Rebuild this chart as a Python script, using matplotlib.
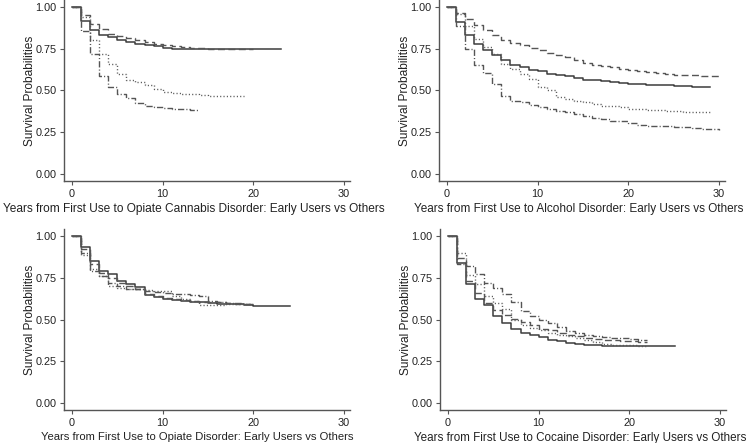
import matplotlib
matplotlib.use('Agg')
import matplotlib.pyplot as plt

plt.rcParams['font.family'] = ['Liberation Sans', 'DejaVu Sans']
plt.rcParams['lines.scale_dashes'] = False

# ---- data: survival probability on [t, t+1), t = 0, 1, 2, ... (last value = end of follow-up)
cannabis_solid = [1.00, 0.915, 0.86, 0.835, 0.82, 0.805, 0.79, 0.78, 0.775, 0.765, 0.755, 0.75,
                  0.75, 0.75, 0.75, 0.75, 0.75, 0.748, 0.748, 0.748, 0.748, 0.748, 0.748, 0.748]
cannabis_dash = [1.00, 0.95, 0.90, 0.87, 0.84, 0.825, 0.815, 0.80, 0.79, 0.78, 0.775, 0.765,
                 0.76, 0.755, 0.755, 0.75, 0.75, 0.75, 0.75, 0.75, 0.75]
cannabis_dot = [1.00, 0.94, 0.80, 0.72, 0.66, 0.60, 0.565, 0.55, 0.53, 0.51, 0.49, 0.485,
                0.48, 0.478, 0.475, 0.47, 0.468, 0.465, 0.465, 0.465]
cannabis_dashdot = [1.00, 0.855, 0.72, 0.585, 0.52, 0.478, 0.455, 0.425, 0.41, 0.40, 0.395,
                    0.39, 0.388, 0.386, 0.386]

alcohol_solid = [1.00, 0.91, 0.83, 0.78, 0.745, 0.71, 0.685, 0.655, 0.64, 0.625, 0.615, 0.60,
                 0.59, 0.585, 0.575, 0.565, 0.56, 0.555, 0.55, 0.545, 0.54, 0.538, 0.535,
                 0.533, 0.53, 0.528, 0.525, 0.52, 0.52, 0.52]
alcohol_dash = [1.00, 0.965, 0.93, 0.89, 0.86, 0.83, 0.80, 0.785, 0.77, 0.755, 0.74, 0.725,
                0.71, 0.70, 0.685, 0.665, 0.655, 0.645, 0.64, 0.63, 0.62, 0.615, 0.61, 0.605,
                0.60, 0.595, 0.59, 0.59, 0.587, 0.586, 0.586]
alcohol_dot = [1.00, 0.96, 0.885, 0.81, 0.76, 0.72, 0.66, 0.63, 0.60, 0.57, 0.52, 0.50, 0.46,
               0.45, 0.44, 0.43, 0.42, 0.41, 0.405, 0.40, 0.39, 0.388, 0.385, 0.382, 0.38,
               0.375, 0.372, 0.37, 0.37, 0.37]
alcohol_dashdot = [1.00, 0.885, 0.75, 0.65, 0.605, 0.54, 0.47, 0.44, 0.43, 0.415, 0.40, 0.39,
                   0.38, 0.37, 0.36, 0.345, 0.335, 0.33, 0.32, 0.315, 0.305, 0.295, 0.29,
                   0.288, 0.285, 0.282, 0.28, 0.275, 0.27, 0.268, 0.266]

opiate_solid = [1.00, 0.935, 0.85, 0.79, 0.77, 0.73, 0.715, 0.695, 0.645, 0.635, 0.625, 0.615,
                0.61, 0.605, 0.603, 0.60, 0.595, 0.593, 0.59, 0.588, 0.58, 0.58, 0.58, 0.58, 0.578]
opiate_dash = [1.00, 0.92, 0.83, 0.78, 0.75, 0.72, 0.70, 0.685, 0.655, 0.64, 0.63, 0.625,
               0.615, 0.61, 0.607, 0.605, 0.603, 0.60, 0.598, 0.595, 0.59]
opiate_dot = [1.00, 0.885, 0.805, 0.76, 0.70, 0.69, 0.685, 0.68, 0.675, 0.67, 0.668, 0.64,
              0.62, 0.61, 0.585, 0.585, 0.585, 0.59, 0.59, 0.59, 0.59]
opiate_dashdot = [1.00, 0.90, 0.79, 0.76, 0.72, 0.70, 0.685, 0.68, 0.67, 0.665, 0.66, 0.655,
                  0.65, 0.645, 0.64, 0.61, 0.605, 0.60, 0.595, 0.59, 0.59]

cocaine_solid = [1.00, 0.84, 0.71, 0.625, 0.585, 0.52, 0.48, 0.445, 0.42, 0.41, 0.395, 0.38,
                 0.37, 0.36, 0.355, 0.35, 0.345, 0.343, 0.34, 0.34, 0.34, 0.34, 0.34, 0.34,
                 0.34, 0.34]
cocaine_dash = [1.00, 0.87, 0.73, 0.66, 0.60, 0.555, 0.525, 0.505, 0.485, 0.465, 0.445, 0.435,
                0.42, 0.41, 0.40, 0.39, 0.385, 0.38, 0.375, 0.372, 0.37, 0.365, 0.365]
cocaine_dot = [1.00, 0.90, 0.765, 0.715, 0.64, 0.60, 0.56, 0.50, 0.47, 0.45, 0.44, 0.42, 0.41,
               0.40, 0.39, 0.375, 0.365, 0.355, 0.35, 0.348, 0.345, 0.34, 0.34]
cocaine_dashdot = [1.00, 0.83, 0.82, 0.77, 0.72, 0.69, 0.65, 0.605, 0.55, 0.52, 0.50, 0.48,
                   0.455, 0.43, 0.42, 0.41, 0.40, 0.395, 0.39, 0.39, 0.385, 0.38, 0.38]

panel_xlabels = [
    "Years from First Use to Opiate Cannabis Disorder: Early Users vs Others",
    "Years from First Use to Alcohol Disorder: Early Users vs Others",
    "Years from First Use to Opiate Disorder: Early Users vs Others",
    "Years from First Use to Cocaine Disorder: Early Users vs Others",
]
ylabel = "Survival Probabilities"
xticks = [0, 10, 20, 30]
yticks = [0.0, 0.25, 0.5, 0.75, 1.0]
ytick_labels = ["0.00", "0.25", "0.50", "0.75", "1.00"]

panels = [
    (cannabis_solid, cannabis_dash, cannabis_dot, cannabis_dashdot),
    (alcohol_solid, alcohol_dash, alcohol_dot, alcohol_dashdot),
    (opiate_solid, opiate_dash, opiate_dot, opiate_dashdot),
    (cocaine_solid, cocaine_dash, cocaine_dot, cocaine_dashdot),
]

W, H = 750, 443
fig = plt.figure(figsize=(W / 100, H / 100), dpi=100)

# axes boxes in pixels: (left, top, width, height)
boxes = [(64, 0, 286, 181), (439, 0, 286, 181), (64, 229, 286, 181), (440, 229, 286, 181)]
label_x = [0.455, 0.49, 0.465, 0.49]
label_size = [8.6, 8.5, 8.15, 8.35]

styles = [
    dict(linestyle='-', color='#3c3c3c', lw=1.1),
    dict(linestyle=(0, (5, 2.5)), color='#555555', lw=1.0),
    dict(linestyle=(0, (0.8, 1.6)), color='#555555', lw=1.0),
    dict(linestyle=(0, (4.5, 1.5, 0.8, 1.5)), color='#555555', lw=1.0),
]

grey = '#555555'
for i, (series, box, xl, lx, ls) in enumerate(zip(panels, boxes, panel_xlabels, label_x, label_size)):
    l, t, w, h = box
    ax = fig.add_axes([l / W, 1 - (t + h) / H, w / W, h / H])
    for vals, st in zip(series, styles):
        ax.step(list(range(len(vals))), vals, where='post', **st)
    ax.set_xlim(-0.88, 30.66)
    ax.set_ylim(-0.042, 1.042)
    for s in ['top', 'right']:
        ax.spines[s].set_visible(False)
    for s in ['left', 'bottom']:
        ax.spines[s].set_color(grey)
        ax.spines[s].set_linewidth(1.0)
    ax.set_xticks(xticks)
    ax.set_yticks(yticks)
    ax.set_yticklabels(ytick_labels)
    ax.tick_params(direction='out', length=3, width=0.8, color=grey,
                   labelsize=7.8, labelcolor='#222222', pad=2.5)
    ax.set_ylabel(ylabel, fontsize=8.6, color='#222222')
    ax.yaxis.set_label_coords(-0.098, 0.5)
    ax.set_xlabel(xl, fontsize=ls, color='#222222')
    ax.xaxis.set_label_coords(lx, -0.122)

fig.savefig('out.png', dpi=100, facecolor='white')
